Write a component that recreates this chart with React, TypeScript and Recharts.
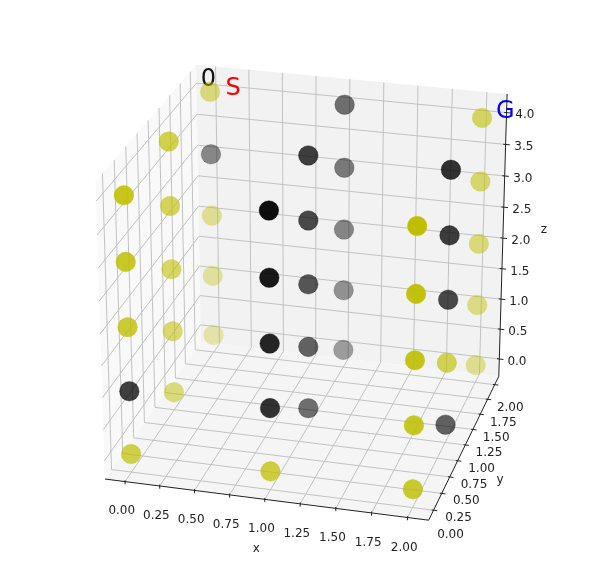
import { Customized, Scatter, ScatterChart, XAxis, YAxis } from "recharts";

const WIDTH = 600;
const HEIGHT = 585;

// y = free cell, k = wall. One grid per z level, rows are y = 0, 1, 2
const gridX = [0, 1, 2];
const gridY = [0, 1, 2];
const gridZ = [0, 1, 2, 3, 4];
const level0 = ["yyy", "ykk", "yky"];
const level1 = ["kky", "yky", "yky"];
const level2 = ["yky", "ykk", "yky"];
const level3 = ["yky", "ykk", "kky"];
const level4 = ["yky", "ykk", "yky"];
const levels = [level0, level1, level2, level3, level4];

const xTicks = [0, 0.25, 0.5, 0.75, 1, 1.25, 1.5, 1.75, 2];
const yTicks = [0, 0.25, 0.5, 0.75, 1, 1.25, 1.5, 1.75, 2];
const zTicks = [0, 0.5, 1, 1.5, 2, 2.5, 3, 3.5, 4];

const xLim = [-0.1, 2.1];
const yLim = [-0.1, 2.1];
const zLim = [-0.2, 4.2];

const ELEV = (25 * Math.PI) / 180;
const AZIM = (-75 * Math.PI) / 180;
const DIST = 10;
const CX = 308.3;
const CY = 284.3;
const FX = 3152;
const FY = 3067;
const PAD = 1 / 48; // matplotlib pads the box a bit past the limits

const n = [
  Math.cos(ELEV) * Math.cos(AZIM),
  Math.cos(ELEV) * Math.sin(AZIM),
  Math.sin(ELEV),
];
const u = [-Math.sin(AZIM), Math.cos(AZIM), 0];
const v = [n[1] * u[2] - n[2] * u[1], n[2] * u[0] - n[0] * u[2], n[0] * u[1] - n[1] * u[0]];

const dot = (a: number[], b: number[]) => a[0] * b[0] + a[1] * b[1] + a[2] * b[2];

// everything below works in the unit box
const norm = (x: number, y: number, z: number) => [
  (x - xLim[0]) / (xLim[1] - xLim[0]),
  (y - yLim[0]) / (yLim[1] - yLim[0]),
  (z - zLim[0]) / (zLim[1] - zLim[0]),
];

function projectUnit(p: number[]) {
  const d = [p[0] - 0.5, p[1] - 0.5, p[2] - 0.5];
  const w = DIST - dot(n, d);
  return { sx: CX + (FX * dot(u, d)) / w, sy: CY - (FY * dot(v, d)) / w, w };
}

const LO = -PAD;
const HI = 1 + PAD;

const points = gridZ
  .flatMap((z, iz) =>
    gridY.flatMap((y, iy) =>
      gridX.map((x, ix) => {
        const { sx, sy, w } = projectUnit(norm(x, y, z));
        return { sx, sy, w, kind: levels[iz][iy][ix] };
      }),
    ),
  )
  .sort((a, b) => b.w - a.w);

const wMin = Math.min(...points.map((p) => p.w));
const wMax = Math.max(...points.map((p) => p.w));

function Dot(props: any) {
  const { cx, cy, payload } = props;
  const alpha = 1 - ((payload.w - wMin) / (wMax - wMin)) * 0.7;
  const color = payload.kind === "y" ? "#bfbf00" : "#000000";
  return (
    <circle
      cx={cx}
      cy={cy}
      r={9.8}
      fill={color}
      fillOpacity={alpha}
      stroke={color}
      strokeOpacity={alpha * 0.5}
      strokeWidth={0.8}
    />
  );
}

const poly = (corners: number[][]) =>
  corners
    .map((c) => {
      const p = projectUnit(c);
      return `${p.sx},${p.sy}`;
    })
    .join(" ");

function Path3D({ pts, stroke, width }: { pts: number[][]; stroke: string; width: number }) {
  return <polyline points={poly(pts)} fill="none" stroke={stroke} strokeWidth={width} />;
}

const GRID = "#c2c2c2";

function Backdrop() {
  return (
    <g>
      <polygon points={poly([[LO, LO, LO], [LO, HI, LO], [LO, HI, HI], [LO, LO, HI]])} fill="#f9f9f9" />
      <polygon points={poly([[LO, HI, LO], [HI, HI, LO], [HI, HI, HI], [LO, HI, HI]])} fill="#f2f2f2" />
      <polygon points={poly([[LO, LO, LO], [HI, LO, LO], [HI, HI, LO], [LO, HI, LO]])} fill="#f5f5f5" />
      {xTicks.map((t) => {
        const a = norm(t, 0, 0)[0];
        return <Path3D key={t} pts={[[a, LO, LO], [a, HI, LO], [a, HI, HI]]} stroke={GRID} width={1} />;
      })}
      {yTicks.map((t) => {
        const a = norm(0, t, 0)[1];
        return <Path3D key={t} pts={[[HI, a, LO], [LO, a, LO], [LO, a, HI]]} stroke={GRID} width={1} />;
      })}
      {zTicks.map((t) => {
        const a = norm(0, 0, t)[2];
        return <Path3D key={t} pts={[[LO, LO, a], [LO, HI, a], [HI, HI, a]]} stroke={GRID} width={1} />;
      })}
      <Path3D pts={[[LO, LO, LO], [HI, LO, LO]]} stroke="#222" width={1} />
      <Path3D pts={[[HI, LO, LO], [HI, HI, LO]]} stroke="#222" width={1} />
      <Path3D pts={[[HI, HI, LO], [HI, HI, HI]]} stroke="#222" width={1} />
    </g>
  );
}

const tickFont = { fontFamily: "DejaVu Sans", fontSize: 12, fill: "#222" };

function label(p: number[], text: string, key: string) {
  const q = projectUnit(p);
  return (
    <text key={key} x={q.sx} y={q.sy + 4} textAnchor="middle" {...tickFont}>
      {text}
    </text>
  );
}

function AxisText() {
  return (
    <g>
      {xTicks.map((t) => {
        const a = norm(t, 0, 0)[0];
        return (
          <g key={t}>
            <Path3D pts={[[a, LO, LO + 0.005], [a, LO, LO - 0.01]]} stroke="#222" width={1} />
            {label([a, LO - 0.04, LO - 0.083], t.toFixed(2), "l")}
          </g>
        );
      })}
      {yTicks.map((t) => {
        const a = norm(0, t, 0)[1];
        return (
          <g key={t}>
            <Path3D pts={[[HI - 0.006, a, LO], [HI + 0.012, a, LO]]} stroke="#222" width={1} />
            {label([HI + 0.055, a, LO - 0.078], t.toFixed(2), "l")}
          </g>
        );
      })}
      {zTicks.map((t) => {
        const a = norm(0, 0, t)[2];
        return (
          <g key={t}>
            <Path3D pts={[[HI - 0.008, HI, a], [HI + 0.014, HI, a]]} stroke="#222" width={1} />
            {label([HI + 0.06, HI, a], t.toFixed(1), "l")}
          </g>
        );
      })}
      {label([norm(1, 0, 0)[0], LO - 0.1, LO - 0.122], "x", "x")}
      {label([HI + 0.116, 0.5, LO - 0.11], "y", "y")}
      {label([HI + 0.115, HI + 0.11, 0.5], "z", "z")}
      <Mark x={-0.07} y={2} z={4.08} text="0" color="#111" />
      <Mark x={0.115} y={2} z={3.98} text="S" color="#ff0000" />
      <Mark x={2.1} y={2} z={4.02} text="G" color="#0000ff" />
    </g>
  );
}

function Mark({ x, y, z, text, color }: { x: number; y: number; z: number; text: string; color: string }) {
  const q = projectUnit(norm(x, y, z));
  return (
    <text x={q.sx} y={q.sy} fontFamily="DejaVu Sans" fontSize={24} fill={color}>
      {text}
    </text>
  );
}

export default function App() {
  return (
    <div style={{ position: "absolute", left: 0, top: 0, width: WIDTH, height: HEIGHT, filter: "blur(0.45px)" }}>
      <ScatterChart width={WIDTH} height={HEIGHT} margin={{ top: 0, right: 0, bottom: 0, left: 0 }}>
        <XAxis type="number" dataKey="sx" domain={[0, WIDTH]} hide />
        <YAxis type="number" dataKey="sy" domain={[0, HEIGHT]} reversed hide />
        <Customized component={<Backdrop />} />
        <Scatter data={points} shape={Dot} isAnimationActive={false} />
        <Customized component={<AxisText />} />
      </ScatterChart>
    </div>
  );
}
